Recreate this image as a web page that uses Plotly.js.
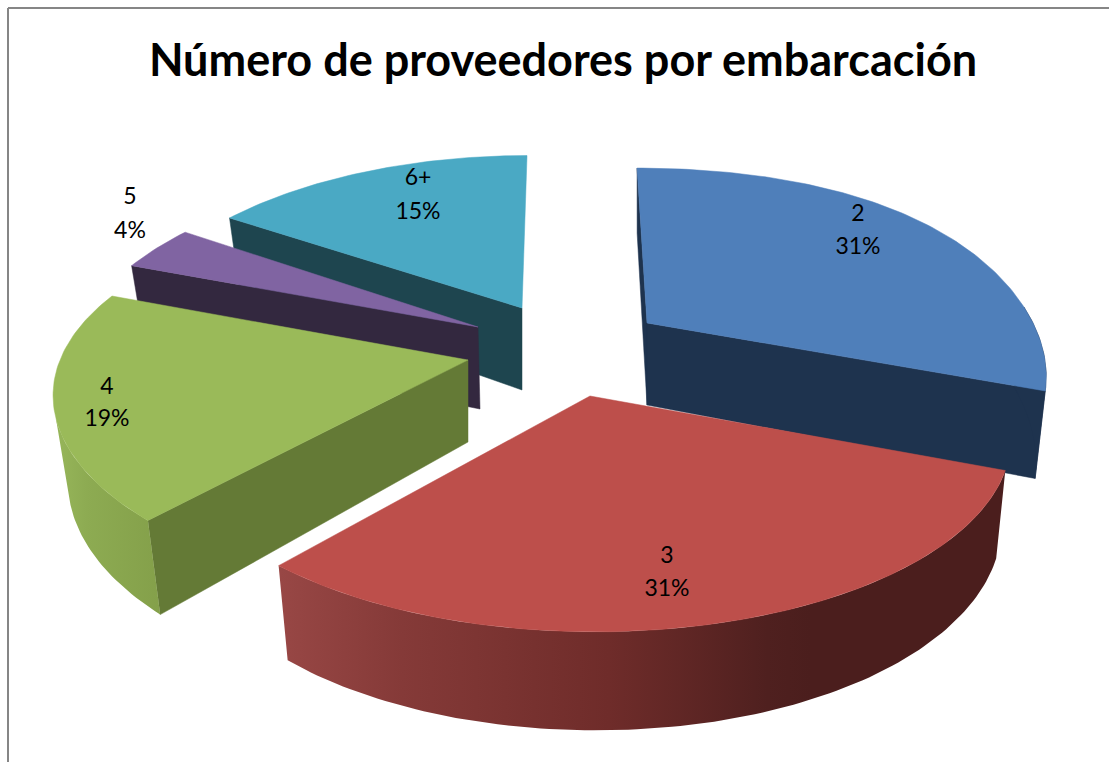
<!DOCTYPE html>
<html>
<head>
<meta charset="utf-8">
<script src="https://cdn.plot.ly/plotly-3.0.1.min.js"></script>
<style>html,body{margin:0;padding:0;background:#fff}#chart{width:1109px;height:762px}</style>
</head>
<body>
<div id="chart"></div>
<script>
// Data
const chartTitle = "Número de proveedores por embarcación";
const categories = ["2", "3", "4", "5", "6+"];
const shares = [31, 31, 19, 4, 15];
const percentLabels = ["31%", "31%", "19%", "4%", "15%"];

// Styles
const topColors = ["#4f7fba", "#bd4f4b", "#9aba59", "#8064a2", "#4aa9c4"];
const wallColors = ["#1e334e", "#96413d", "#647a36", "#33283f", "#1e454f"];

// Projection of the tilted, exploded pie (page pixels)
const tipX = [647, 590, 468, 478, 522];
const tipY = [323, 396, 360, 327, 308];
const scaleX = [386, 411, 408, 397, 392];
const scaleY = [187, 187, 187, 187, 184];
const shear = [0.064, 0.022, 0.055, 0, -0.033];
const bulge = [0.02, 0, 0, 0, 0];
const startFix = [0, 0, 0, -1, -3];
const endFix = [-2, -3, 0, -1.5, 0];
const faces = [[0, 1], [], [0], [0], [0]]; // 0 = start edge wall, 1 = end edge wall
const rimRange = [[85, null], [null, null], [null, 253], null, null];
const rimGradients = [
  null,
  {start: 280, stop: 810, colorscale: [[0, "#984745"], [0.23, "#853a38"], [0.62, "#6f2c2a"], [0.92, "#4f201f"], [1, "#4b1e1d"]]},
  {start: 55, stop: 160, colorscale: [[0, "#97b65a"], [0.3, "#8dab52"], [1, "#84a04a"]]},
  null, null
];
const persp = 0.207, depth = 82;
const labelX = [858, 667, 107, 130, 418];
const categoryY = [215, 557, 388, 198, 179];
const percentY = [248, 590, 420, 232, 213];

function rimPoint(i, deg) {
  const t = deg * Math.PI / 180, u = Math.sin(t), v = Math.cos(t), w = 1 + persp * v;
  const k = 1 + bulge[i] * Math.pow(Math.sin(2 * t), 2);
  const dy = -scaleY[i] * v / w * k, dx = scaleX[i] * u / w * k + shear[i] * dy;
  return {x: tipX[i] + dx, y: tipY[i] + dy, w};
}
function lower(p) {
  return {x: p.x - (p.x - 640) * 0.025, y: p.y + depth + (1 - p.w) * 80};
}
function polygon(pts, color, gradient) {
  const tr = {type: "scatter", mode: "lines", x: pts.map(p => p.x).concat(pts[0].x), y: pts.map(p => p.y).concat(pts[0].y),
    fill: "toself", fillcolor: color, line: {color: color, width: 0.5}, hoverinfo: "skip", showlegend: false};
  if (gradient) {
    tr.fillgradient = Object.assign({type: "horizontal"}, gradient);
    tr.line = {width: 0};
  }
  return tr;
}

const total = shares.reduce((a, b) => a + b, 0);
let acc = 0;
const spans = shares.map((s, i) => {
  const a = acc; acc += s;
  return [a / total * 360 + startFix[i], acc / total * 360 + endFix[i]];
});
const layers = {};
spans.forEach(([a0, a1], i) => {
  const tr = [];
  const tip = {x: tipX[i], y: tipY[i], w: 1};
  const tipLow = {x: tipX[i] + (i === 3 ? 2 : 0), y: tipY[i] + depth};
  faces[i].forEach(f => {
    const r = rimPoint(i, f === 0 ? a0 : a1);
    tr.push(polygon([tip, r, lower(r), tipLow], wallColors[i]));
  });
  if (rimRange[i]) {
    const r0 = rimRange[i][0] === null ? a0 : rimRange[i][0];
    const r1 = rimRange[i][1] === null ? a1 : rimRange[i][1];
    const upper = [], bottom = [];
    const n = Math.round(r1 - r0);
    for (let k = 0; k <= n; k++) {
      const p = rimPoint(i, r0 + (r1 - r0) * k / n);
      upper.push(p); bottom.unshift(lower(p));
    }
    tr.push(polygon(upper.concat(bottom), wallColors[i], rimGradients[i]));
  }
  const top = [tip];
  const m = Math.max(8, Math.round(a1 - a0));
  for (let k = 0; k <= m; k++) top.push(rimPoint(i, a0 + (a1 - a0) * k / m));
  tr.push(polygon(top, topColors[i]));
  layers[i] = tr;
});

const traces = [].concat(layers[4], layers[3], layers[0], layers[2], layers[1]);
const labelFont = {family: "Lato, sans-serif", size: 23, color: "#000"};
traces.push({type: "scatter", mode: "text", x: labelX, y: categoryY, text: categories,
  textposition: "middle center", textfont: labelFont, hoverinfo: "skip", showlegend: false});
traces.push({type: "scatter", mode: "text", x: labelX, y: percentY, text: percentLabels,
  textposition: "middle center", textfont: labelFont, hoverinfo: "skip", showlegend: false});

Plotly.newPlot("chart", traces, {
  width: 1109, height: 762, margin: {l: 0, r: 0, t: 0, b: 0},
  paper_bgcolor: "#fff", plot_bgcolor: "#fff", showlegend: false,
  title: {text: "<b>" + chartTitle + "</b>", x: 563 / 1109, xanchor: "center", y: 1 - 60 / 762, yanchor: "middle",
    font: {family: "Lato, sans-serif", size: 45, color: "#000"}},
  xaxis: {range: [0, 1109], visible: false, fixedrange: true},
  yaxis: {range: [762, 0], visible: false, fixedrange: true},
  shapes: [
    {type: "line", xref: "x", yref: "y", x0: 8, x1: 8, y0: 8, y1: 762, line: {color: "#868686", width: 2}},
    {type: "line", xref: "x", yref: "y", x0: 8, x1: 1109, y0: 8, y1: 8, line: {color: "#868686", width: 2}}
  ]
}, {displayModeBar: false, staticPlot: true});
</script>
</body>
</html>
